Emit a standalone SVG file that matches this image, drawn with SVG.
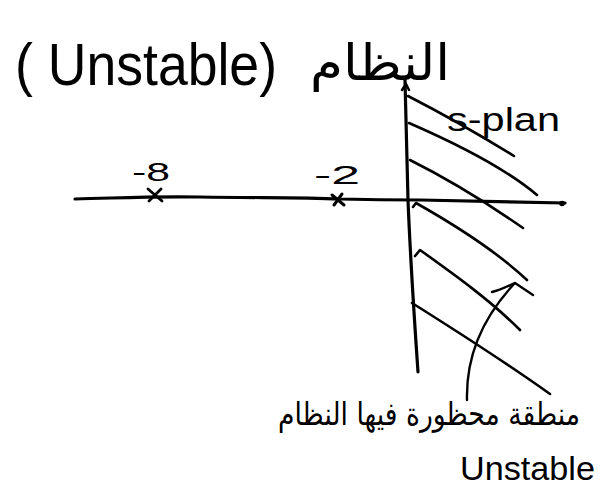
<svg xmlns="http://www.w3.org/2000/svg" width="605" height="495" viewBox="0 0 605 495">
<style>
.ink{fill:none;stroke:#000;stroke-linecap:round;stroke-linejoin:round}
.ax{stroke-width:3.2}
.h{stroke-width:2.6}
.t{fill:#000;font-family:"Liberation Sans","DejaVu Sans",sans-serif}
.ar{fill:#000;font-family:"DejaVu Sans","Noto Sans",sans-serif}
</style>
<rect width="605" height="495" fill="#fff"/>
<g id="title">
<text class="t" x="15" y="85" font-size="60" textLength="262" lengthAdjust="spacingAndGlyphs">( Unstable)</text>
<text class="ar" x="310" y="80" font-size="50" textLength="140" lengthAdjust="spacingAndGlyphs">النظام</text>
</g>
<g id="axes">
<path class="ink ax" d="M75,199 C120,198 150,196 200,197 C260,198 300,197 340,199 C380,200 400,200 420,200 C480,201 530,202 565,203"/>
<circle cx="562" cy="203.5" r="2.8" fill="#000"/>
<path class="ink ax" d="M405,80 C406,130 407,170 408,200 C410,250 413,300 418,372"/>
<path class="ink" stroke-width="2.5" d="M402,90 L406,84 L409,90"/>
</g>
<g id="hatch">
<path class="ink h" d="M408,96 C445,115 480,135 514,156"/>
<path class="ink h" d="M409,123 C455,143 505,168 537,195"/>
<path class="ink h" d="M410,160 C450,180 490,205 523,228"/>
<path class="ink h" d="M413,207 L416,203 C455,225 495,250 527,280"/>
<path class="ink h" d="M415,256 L420,250 C455,275 490,300 520,330"/>
<path class="ink h" d="M412,303 C455,330 505,362 550,394"/>
</g>
<g id="poles">
<path class="ink" stroke-width="2.8" d="M148,189 L162,201 M161,189 L149,201"/>
<path class="ink" stroke-width="3" d="M332,195 L344,205 M342,194 L334,205"/>
</g>
<g id="labels">
<text class="t" x="132" y="181" font-size="26" textLength="38" lengthAdjust="spacingAndGlyphs">-8</text>
<text class="t" x="314" y="184" font-size="26" textLength="46" lengthAdjust="spacingAndGlyphs">-2</text>
<text class="t" x="447" y="131" font-size="34" textLength="113" lengthAdjust="spacingAndGlyphs">s-plan</text>
</g>
<g id="annotation">
<path class="ink" stroke-width="2.4" d="M467,400 C466,360 480,320 515,283"/>
<path class="ink" stroke-width="2.4" d="M492,292 C500,290 508,286 515,283 L533,295"/>
<text class="ar" x="278" y="425" font-size="32" textLength="302" lengthAdjust="spacingAndGlyphs">منطقة محظورة فيها النظام</text>
<text class="t" x="460" y="480" font-size="34" textLength="135" lengthAdjust="spacingAndGlyphs">Unstable</text>
</g>
</svg>
